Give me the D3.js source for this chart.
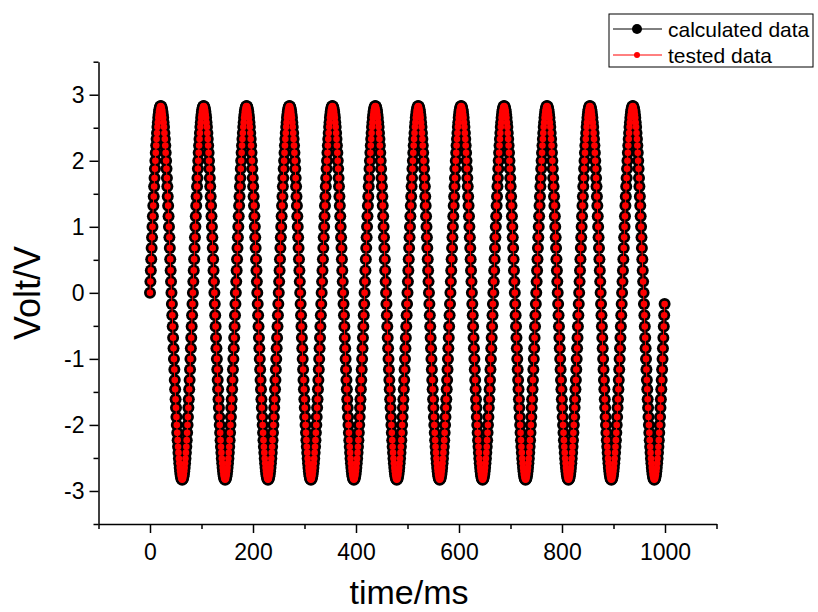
<!DOCTYPE html>
<html lang="en">
<head>
    <meta charset="UTF-8" />
    <title>calculated vs tested voltage</title>
    <style>
        body, html {
            margin: 0;
            padding: 0;
            overflow: hidden;
            background: #fff;
        }
        svg {
            display: block;
            font-family: "Liberation Sans", Arial, sans-serif;
        }
        .axis path, .axis line {
            stroke: #000;
            stroke-width: 1.5px;
        }
        .axis text {
            font-size: 23px;
            fill: #000;
        }
    </style>
</head>
<body>
<svg width="818" height="612"></svg>

<script src="https://d3js.org/d3.v7.min.js"></script>
<script>
    // sampling interval of both series, ms
    const sampleStep = 0.8013;

    // calculated data, volts (one sample every sampleStep ms, from t = 0)
    const calculatedVolt = [
        0,0.17,0.34,0.51,0.68,0.84,1,1.16,1.32,1.46,1.61,1.74,1.88,2,2.12,2.23,2.33,2.42,2.51,2.58,2.65,2.7,2.75,2.78,2.81,2.82,2.83,2.82,2.81,2.78,2.75,2.7,2.65,2.58,2.51,2.42,2.33,2.23,2.12,2,1.88,1.74,1.61,1.46,1.32,1.16,1,0.84,0.68,0.51,0.34,0.17,0,-0.17,-0.34,-0.51,-0.68,-0.84,-1,-1.16,-1.32,-1.46,-1.61,-1.74,-1.88,-2,-2.12,-2.23,-2.33,-2.42,-2.51,-2.58,-2.65,-2.7,-2.75,-2.78,-2.81,-2.82,-2.83,-2.82,-2.81,-2.78,-2.75,-2.7,-2.65,-2.58,-2.51,-2.42,-2.33,-2.23,-2.12,-2,-1.88,-1.74,-1.61,-1.46,-1.32,-1.16,-1,-0.84,-0.68,-0.51,-0.34,-0.17,
        0,0.17,0.34,0.51,0.68,0.84,1,1.16,1.32,1.46,1.61,1.74,1.88,2,2.12,2.23,2.33,2.42,2.51,2.58,2.65,2.7,2.75,2.78,2.81,2.82,2.83,2.82,2.81,2.78,2.75,2.7,2.65,2.58,2.51,2.42,2.33,2.23,2.12,2,1.88,1.74,1.61,1.46,1.32,1.16,1,0.84,0.68,0.51,0.34,0.17,0,-0.17,-0.34,-0.51,-0.68,-0.84,-1,-1.16,-1.32,-1.46,-1.61,-1.74,-1.88,-2,-2.12,-2.23,-2.33,-2.42,-2.51,-2.58,-2.65,-2.7,-2.75,-2.78,-2.81,-2.82,-2.83,-2.82,-2.81,-2.78,-2.75,-2.7,-2.65,-2.58,-2.51,-2.42,-2.33,-2.23,-2.12,-2,-1.88,-1.74,-1.61,-1.46,-1.32,-1.16,-1,-0.84,-0.68,-0.51,-0.34,-0.17,
        0,0.17,0.34,0.51,0.68,0.84,1,1.16,1.32,1.46,1.61,1.74,1.88,2,2.12,2.23,2.33,2.42,2.51,2.58,2.65,2.7,2.75,2.78,2.81,2.82,2.83,2.82,2.81,2.78,2.75,2.7,2.65,2.58,2.51,2.42,2.33,2.23,2.12,2,1.88,1.74,1.61,1.46,1.32,1.16,1,0.84,0.68,0.51,0.34,0.17,0,-0.17,-0.34,-0.51,-0.68,-0.84,-1,-1.16,-1.32,-1.46,-1.61,-1.74,-1.88,-2,-2.12,-2.23,-2.33,-2.42,-2.51,-2.58,-2.65,-2.7,-2.75,-2.78,-2.81,-2.82,-2.83,-2.82,-2.81,-2.78,-2.75,-2.7,-2.65,-2.58,-2.51,-2.42,-2.33,-2.23,-2.12,-2,-1.88,-1.74,-1.61,-1.46,-1.32,-1.16,-1,-0.84,-0.68,-0.51,-0.34,-0.17,
        0,0.17,0.34,0.51,0.68,0.84,1,1.16,1.32,1.46,1.61,1.74,1.88,2,2.12,2.23,2.33,2.42,2.51,2.58,2.65,2.7,2.75,2.78,2.81,2.82,2.83,2.82,2.81,2.78,2.75,2.7,2.65,2.58,2.51,2.42,2.33,2.23,2.12,2,1.88,1.74,1.61,1.46,1.32,1.16,1,0.84,0.68,0.51,0.34,0.17,0,-0.17,-0.34,-0.51,-0.68,-0.84,-1,-1.16,-1.32,-1.46,-1.61,-1.74,-1.88,-2,-2.12,-2.23,-2.33,-2.42,-2.51,-2.58,-2.65,-2.7,-2.75,-2.78,-2.81,-2.82,-2.83,-2.82,-2.81,-2.78,-2.75,-2.7,-2.65,-2.58,-2.51,-2.42,-2.33,-2.23,-2.12,-2,-1.88,-1.74,-1.61,-1.46,-1.32,-1.16,-1,-0.84,-0.68,-0.51,-0.34,-0.17,
        0,0.17,0.34,0.51,0.68,0.84,1,1.16,1.32,1.46,1.61,1.74,1.88,2,2.12,2.23,2.33,2.42,2.51,2.58,2.65,2.7,2.75,2.78,2.81,2.82,2.83,2.82,2.81,2.78,2.75,2.7,2.65,2.58,2.51,2.42,2.33,2.23,2.12,2,1.88,1.74,1.61,1.46,1.32,1.16,1,0.84,0.68,0.51,0.34,0.17,0,-0.17,-0.34,-0.51,-0.68,-0.84,-1,-1.16,-1.32,-1.46,-1.61,-1.74,-1.88,-2,-2.12,-2.23,-2.33,-2.42,-2.51,-2.58,-2.65,-2.7,-2.75,-2.78,-2.81,-2.82,-2.83,-2.82,-2.81,-2.78,-2.75,-2.7,-2.65,-2.58,-2.51,-2.42,-2.33,-2.23,-2.12,-2,-1.88,-1.74,-1.61,-1.46,-1.32,-1.16,-1,-0.84,-0.68,-0.51,-0.34,-0.17,
        0,0.17,0.34,0.51,0.68,0.84,1,1.16,1.32,1.46,1.61,1.74,1.88,2,2.12,2.23,2.33,2.42,2.51,2.58,2.65,2.7,2.75,2.78,2.81,2.82,2.83,2.82,2.81,2.78,2.75,2.7,2.65,2.58,2.51,2.42,2.33,2.23,2.12,2,1.88,1.74,1.61,1.46,1.32,1.16,1,0.84,0.68,0.51,0.34,0.17,0,-0.17,-0.34,-0.51,-0.68,-0.84,-1,-1.16,-1.32,-1.46,-1.61,-1.74,-1.88,-2,-2.12,-2.23,-2.33,-2.42,-2.51,-2.58,-2.65,-2.7,-2.75,-2.78,-2.81,-2.82,-2.83,-2.82,-2.81,-2.78,-2.75,-2.7,-2.65,-2.58,-2.51,-2.42,-2.33,-2.23,-2.12,-2,-1.88,-1.74,-1.61,-1.46,-1.32,-1.16,-1,-0.84,-0.68,-0.51,-0.34,-0.17,
        0,0.17,0.34,0.51,0.68,0.84,1,1.16,1.32,1.46,1.61,1.74,1.88,2,2.12,2.23,2.33,2.42,2.51,2.58,2.65,2.7,2.75,2.78,2.81,2.82,2.83,2.82,2.81,2.78,2.75,2.7,2.65,2.58,2.51,2.42,2.33,2.23,2.12,2,1.88,1.74,1.61,1.46,1.32,1.16,1,0.84,0.68,0.51,0.34,0.17,0,-0.17,-0.34,-0.51,-0.68,-0.84,-1,-1.16,-1.32,-1.46,-1.61,-1.74,-1.88,-2,-2.12,-2.23,-2.33,-2.42,-2.51,-2.58,-2.65,-2.7,-2.75,-2.78,-2.81,-2.82,-2.83,-2.82,-2.81,-2.78,-2.75,-2.7,-2.65,-2.58,-2.51,-2.42,-2.33,-2.23,-2.12,-2,-1.88,-1.74,-1.61,-1.46,-1.32,-1.16,-1,-0.84,-0.68,-0.51,-0.34,-0.17,
        0,0.17,0.34,0.51,0.68,0.84,1,1.16,1.32,1.46,1.61,1.74,1.88,2,2.12,2.23,2.33,2.42,2.51,2.58,2.65,2.7,2.75,2.78,2.81,2.82,2.83,2.82,2.81,2.78,2.75,2.7,2.65,2.58,2.51,2.42,2.33,2.23,2.12,2,1.88,1.74,1.61,1.46,1.32,1.16,1,0.84,0.68,0.51,0.34,0.17,0,-0.17,-0.34,-0.51,-0.68,-0.84,-1,-1.16,-1.32,-1.46,-1.61,-1.74,-1.88,-2,-2.12,-2.23,-2.33,-2.42,-2.51,-2.58,-2.65,-2.7,-2.75,-2.78,-2.81,-2.82,-2.83,-2.82,-2.81,-2.78,-2.75,-2.7,-2.65,-2.58,-2.51,-2.42,-2.33,-2.23,-2.12,-2,-1.88,-1.74,-1.61,-1.46,-1.32,-1.16,-1,-0.84,-0.68,-0.51,-0.34,-0.17,
        0,0.17,0.34,0.51,0.68,0.84,1,1.16,1.32,1.46,1.61,1.74,1.88,2,2.12,2.23,2.33,2.42,2.51,2.58,2.65,2.7,2.75,2.78,2.81,2.82,2.83,2.82,2.81,2.78,2.75,2.7,2.65,2.58,2.51,2.42,2.33,2.23,2.12,2,1.88,1.74,1.61,1.46,1.32,1.16,1,0.84,0.68,0.51,0.34,0.17,0,-0.17,-0.34,-0.51,-0.68,-0.84,-1,-1.16,-1.32,-1.46,-1.61,-1.74,-1.88,-2,-2.12,-2.23,-2.33,-2.42,-2.51,-2.58,-2.65,-2.7,-2.75,-2.78,-2.81,-2.82,-2.83,-2.82,-2.81,-2.78,-2.75,-2.7,-2.65,-2.58,-2.51,-2.42,-2.33,-2.23,-2.12,-2,-1.88,-1.74,-1.61,-1.46,-1.32,-1.16,-1,-0.84,-0.68,-0.51,-0.34,-0.17,
        0,0.17,0.34,0.51,0.68,0.84,1,1.16,1.32,1.46,1.61,1.74,1.88,2,2.12,2.23,2.33,2.42,2.51,2.58,2.65,2.7,2.75,2.78,2.81,2.82,2.83,2.82,2.81,2.78,2.75,2.7,2.65,2.58,2.51,2.42,2.33,2.23,2.12,2,1.88,1.74,1.61,1.46,1.32,1.16,1,0.84,0.68,0.51,0.34,0.17,0,-0.17,-0.34,-0.51,-0.68,-0.84,-1,-1.16,-1.32,-1.46,-1.61,-1.74,-1.88,-2,-2.12,-2.23,-2.33,-2.42,-2.51,-2.58,-2.65,-2.7,-2.75,-2.78,-2.81,-2.82,-2.83,-2.82,-2.81,-2.78,-2.75,-2.7,-2.65,-2.58,-2.51,-2.42,-2.33,-2.23,-2.12,-2,-1.88,-1.74,-1.61,-1.46,-1.32,-1.16,-1,-0.84,-0.68,-0.51,-0.34,-0.17,
        0,0.17,0.34,0.51,0.68,0.84,1,1.16,1.32,1.46,1.61,1.74,1.88,2,2.12,2.23,2.33,2.42,2.51,2.58,2.65,2.7,2.75,2.78,2.81,2.82,2.83,2.82,2.81,2.78,2.75,2.7,2.65,2.58,2.51,2.42,2.33,2.23,2.12,2,1.88,1.74,1.61,1.46,1.32,1.16,1,0.84,0.68,0.51,0.34,0.17,0,-0.17,-0.34,-0.51,-0.68,-0.84,-1,-1.16,-1.32,-1.46,-1.61,-1.74,-1.88,-2,-2.12,-2.23,-2.33,-2.42,-2.51,-2.58,-2.65,-2.7,-2.75,-2.78,-2.81,-2.82,-2.83,-2.82,-2.81,-2.78,-2.75,-2.7,-2.65,-2.58,-2.51,-2.42,-2.33,-2.23,-2.12,-2,-1.88,-1.74,-1.61,-1.46,-1.32,-1.16,-1,-0.84,-0.68,-0.51,-0.34,-0.17,
        0,0.17,0.34,0.51,0.68,0.84,1,1.16,1.32,1.46,1.61,1.74,1.88,2,2.12,2.23,2.33,2.42,2.51,2.58,2.65,2.7,2.75,2.78,2.81,2.82,2.83,2.82,2.81,2.78,2.75,2.7,2.65,2.58,2.51,2.42,2.33,2.23,2.12,2,1.88,1.74,1.61,1.46,1.32,1.16,1,0.84,0.68,0.51,0.34,0.17,0,-0.17,-0.34,-0.51,-0.68,-0.84,-1,-1.16,-1.32,-1.46,-1.61,-1.74,-1.88,-2,-2.12,-2.23,-2.33,-2.42,-2.51,-2.58,-2.65,-2.7,-2.75,-2.78,-2.81,-2.82,-2.83,-2.82,-2.81,-2.78,-2.75,-2.7,-2.65,-2.58,-2.51,-2.42,-2.33,-2.23,-2.12,-2,-1.88,-1.74,-1.61,-1.46,-1.32,-1.16,-1,-0.84,-0.68,-0.51,-0.34,-0.17
    ];

    // tested data lies on top of the calculated points everywhere in the picture
    const testedVolt = calculatedVolt.slice();

    const xMajor = [0, 200, 400, 600, 800, 1000];
    const xMinor = [-100, 100, 300, 500, 700, 900, 1100];
    const yMajor = [-3, -2, -1, 0, 1, 2, 3];
    const yMinor = [-3.5, -2.5, -1.5, -0.5, 0.5, 1.5, 2.5, 3.5];

    const legendItems = [
        { label: "calculated data", color: "#000", r: 5 },
        { label: "tested data", color: "#ff0000", r: 3 }
    ];

    const svg = d3.select("svg");

    const x = d3.scaleLinear().domain([-100, 1100]).range([98.5, 716.5]);
    const y = d3.scaleLinear().domain([-3.5, 3.5]).range([524, 61.7]);

    const toPoints = arr => arr.map((v, i) => ({ t: i * sampleStep, v: v }));
    const series = [
        { pts: toPoints(calculatedVolt), color: "#000", r: 6 },
        { pts: toPoints(testedVolt), color: "#ff0000", r: 3.3 }
    ];

    // axes
    const xAxis = svg.append("g")
        .attr("class", "axis")
        .attr("transform", `translate(0,${y(-3.5)})`)
        .call(d3.axisBottom(x).tickValues(xMajor).tickSize(9).tickSizeOuter(0)
            .tickFormat(d => String(d)));
    xAxis.selectAll("text").attr("y", 36).attr("dy", 0);

    svg.append("g")
        .attr("class", "axis")
        .attr("transform", `translate(0,${y(-3.5)})`)
        .call(d3.axisBottom(x).tickValues(xMinor).tickSize(5).tickSizeOuter(0).tickFormat(""))
        .select(".domain").remove();

    const yAxis = svg.append("g")
        .attr("class", "axis")
        .attr("transform", `translate(${x(-100)},0)`)
        .call(d3.axisLeft(y).tickValues(yMajor).tickSize(9).tickSizeOuter(0)
            .tickFormat(d => String(d)));
    yAxis.selectAll("text").attr("x", -14).attr("dy", "0.33em");

    svg.append("g")
        .attr("class", "axis")
        .attr("transform", `translate(${x(-100)},0)`)
        .call(d3.axisLeft(y).tickValues(yMinor).tickSize(5).tickSizeOuter(0).tickFormat(""))
        .select(".domain").remove();

    // series: line then symbols, black first and red on top
    const line = d3.line().x(d => x(d.t)).y(d => y(d.v));

    series.forEach(s => {
        const g = svg.append("g");
        g.append("path")
            .datum(s.pts)
            .attr("fill", "none")
            .attr("stroke", s.color)
            .attr("stroke-width", 1)
            .attr("d", line);
        g.selectAll("circle")
            .data(s.pts)
            .join("circle")
            .attr("cx", d => x(d.t))
            .attr("cy", d => y(d.v))
            .attr("r", s.r)
            .attr("fill", s.color);
    });

    // axis titles
    svg.append("text")
        .attr("x", 409)
        .attr("y", 604)
        .attr("text-anchor", "middle")
        .attr("font-size", 34)
        .text("time/ms");

    svg.append("text")
        .attr("transform", "translate(40,293) rotate(-90)")
        .attr("text-anchor", "middle")
        .attr("font-size", 36)
        .text("Volt/V");

    // legend
    const legend = svg.append("g").attr("transform", "translate(609,14)");
    legend.append("rect")
        .attr("width", 204)
        .attr("height", 53)
        .attr("fill", "#fff")
        .attr("stroke", "#000")
        .attr("stroke-width", 1);

    const rows = legend.selectAll("g.row")
        .data(legendItems)
        .join("g")
        .attr("class", "row")
        .attr("transform", (d, i) => `translate(0,${15 + i * 26})`);
    rows.append("line")
        .attr("x1", 4).attr("x2", 53)
        .attr("stroke", d => d.color)
        .attr("stroke-width", 1);
    rows.append("circle")
        .attr("cx", 28)
        .attr("r", d => d.r)
        .attr("fill", d => d.color);
    rows.append("text")
        .attr("x", 59)
        .attr("y", 7.5)
        .attr("font-size", 21)
        .text(d => d.label);
</script>
</body>
</html>
